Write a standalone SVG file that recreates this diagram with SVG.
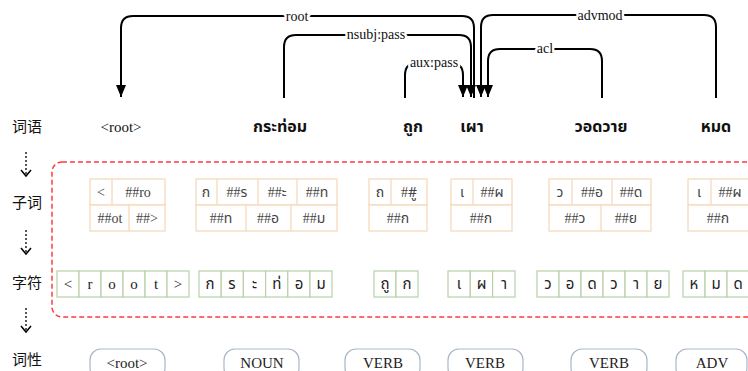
<svg xmlns="http://www.w3.org/2000/svg" width="748" height="371" viewBox="0 0 748 371">
<style>
.side{font-family:"Noto Sans CJK SC","Noto Sans",sans-serif;font-size:15px;fill:#111;text-anchor:middle}
.word{font-family:"Noto Sans Thai","Noto Sans","DejaVu Sans",sans-serif;font-size:16px;font-weight:bold;fill:#111;text-anchor:middle}
.wordr{font-family:"Liberation Serif",serif;font-size:15px;fill:#111;text-anchor:middle}
.lbl{font-family:"Liberation Serif",serif;font-size:14px;fill:#111;text-anchor:middle;stroke:#fff;stroke-width:5px;paint-order:stroke;stroke-linejoin:round}
.arc{fill:none;stroke:#000;stroke-width:2}
.sub{fill:#fff;stroke:#f5d7b8;stroke-width:1.2}
.st{font-family:"Liberation Serif","Noto Sans Thai",serif;font-size:14px;fill:#444;text-anchor:middle}
.ch{fill:#fff;stroke:#b8d0a8;stroke-width:1.2}
.ct{font-family:"Liberation Serif","Noto Sans Thai",serif;font-size:15px;fill:#222;text-anchor:middle}
.pos{fill:#fff;stroke:#a9b7cc;stroke-width:1.2}
.pt{font-family:"Liberation Serif",serif;font-size:15px;fill:#222;text-anchor:middle}
.dot{fill:none;stroke:#000;stroke-width:1.3;stroke-dasharray:2,2}
.chev{fill:none;stroke:#000;stroke-width:1.5}
</style>
<defs>
<marker id="ah" viewBox="0 0 12 10" refX="12" refY="5" markerWidth="12" markerHeight="10" markerUnits="userSpaceOnUse" orient="auto">
<path d="M0,0 L12,5 L0,10 z" fill="#000"/>
</marker>
</defs>
<rect width="748" height="371" fill="#fff"/>

<g id="side-labels">
<text class="side" x="27" y="132">词语</text>
<text class="side" x="27" y="208">子词</text>
<text class="side" x="27" y="288">字符</text>
<text class="side" x="27" y="365">词性</text>
<line class="dot" x1="26" y1="152" x2="26" y2="174"/>
<path class="chev" d="M21,170 L26,176 L31,170"/>
<line class="dot" x1="26" y1="230" x2="26" y2="252"/>
<path class="chev" d="M21,248 L26,254 L31,248"/>
<line class="dot" x1="26" y1="308" x2="26" y2="330"/>
<path class="chev" d="M21,326 L26,332 L31,326"/>
</g>

<rect id="region" x="52" y="162" width="720" height="155" rx="10" fill="none" stroke="#ff3b3b" stroke-width="1.5" stroke-dasharray="5,3"/>

<g id="connectors">
<path class="arc" d="M474,98 V28 Q474,16 462,16 H133 Q121,16 121,28 V97" marker-end="url(#ah)"/>
<path class="arc" d="M284,98 V47 Q284,35 296,35 H459 Q471,35 471,47 V97" marker-end="url(#ah)"/>
<path class="arc" d="M405,98 V75 Q405,63 417,63 H451 Q463,63 463,75 V97" marker-end="url(#ah)"/>
<path class="arc" d="M716,98 V27 Q716,15 704,15 H493 Q481,15 481,27 V97" marker-end="url(#ah)"/>
<path class="arc" d="M602,98 V61 Q602,49 590,49 H500 Q488,49 488,61 V97" marker-end="url(#ah)"/>
<text class="lbl" x="297" y="21">root</text>
<text class="lbl" x="376" y="39">nsubj:pass</text>
<text class="lbl" x="434" y="67">aux:pass</text>
<text class="lbl" x="600" y="20">advmod</text>
<text class="lbl" x="545" y="53">acl</text>
</g>

<g id="w-root">
<text class="wordr" x="121" y="132">&lt;root&gt;</text>
<rect class="sub" x="90" y="179" width="75" height="26"/>
<rect class="sub" x="90" y="205" width="75" height="26"/>
<line class="sub" x1="112" y1="179" x2="112" y2="205"/>
<line class="sub" x1="129" y1="205" x2="129" y2="231"/>
<text class="st" x="101" y="197">&lt;</text>
<text class="st" x="138" y="197">##ro</text>
<text class="st" x="110" y="223">##ot</text>
<text class="st" x="147" y="223">##&gt;</text>
<g>
<rect class="ch" x="57" y="271" width="22" height="26"/><rect class="ch" x="79" y="271" width="22" height="26"/><rect class="ch" x="101" y="271" width="22" height="26"/><rect class="ch" x="123" y="271" width="22" height="26"/><rect class="ch" x="145" y="271" width="22" height="26"/><rect class="ch" x="167" y="271" width="22" height="26"/>
<text class="ct" x="68" y="289">&lt;</text><text class="ct" x="90" y="289">r</text><text class="ct" x="112" y="289">o</text><text class="ct" x="134" y="289">o</text><text class="ct" x="156" y="289">t</text><text class="ct" x="178" y="289">&gt;</text>
</g>
<rect class="pos" x="90" y="349" width="75" height="30" rx="11"/>
<text class="pt" x="127" y="368">&lt;root&gt;</text>
</g>

<g id="w-krathom">
<text class="word" x="280" y="132">กระท่อม</text>
<rect class="sub" x="196" y="179" width="141" height="26"/>
<rect class="sub" x="196" y="205" width="141" height="26"/>
<line class="sub" x1="217" y1="179" x2="217" y2="205"/>
<line class="sub" x1="258" y1="179" x2="258" y2="205"/>
<line class="sub" x1="297" y1="179" x2="297" y2="205"/>
<line class="sub" x1="246" y1="205" x2="246" y2="231"/>
<line class="sub" x1="291" y1="205" x2="291" y2="231"/>
<text class="st" x="206" y="197">ก</text>
<text class="st" x="237" y="197">##ร</text>
<text class="st" x="277" y="197">##ะ</text>
<text class="st" x="317" y="197">##ท</text>
<text class="st" x="221" y="223">##ท</text>
<text class="st" x="268" y="223">##อ</text>
<text class="st" x="314" y="223">##ม</text>
<g>
<rect class="ch" x="199" y="271" width="22.2" height="26"/><rect class="ch" x="221.2" y="271" width="22.2" height="26"/><rect class="ch" x="243.4" y="271" width="22.2" height="26"/><rect class="ch" x="265.6" y="271" width="22.2" height="26"/><rect class="ch" x="287.8" y="271" width="22.2" height="26"/><rect class="ch" x="310" y="271" width="22" height="26"/>
<text class="ct" x="210" y="289">ก</text><text class="ct" x="232" y="289">ร</text><text class="ct" x="254.5" y="289">ะ</text><text class="ct" x="276.7" y="289">ท่</text><text class="ct" x="299" y="289">อ</text><text class="ct" x="321" y="289">ม</text>
</g>
<rect class="pos" x="224" y="349" width="75" height="30" rx="11"/>
<text class="pt" x="262" y="368">NOUN</text>
</g>

<g id="w-thuk">
<text class="word" x="413" y="132">ถูก</text>
<rect class="sub" x="369" y="179" width="58" height="26"/>
<rect class="sub" x="369" y="205" width="58" height="26"/>
<line class="sub" x1="391" y1="179" x2="391" y2="205"/>
<text class="st" x="380" y="197">ถ</text>
<text class="st" x="409" y="197">##ู</text>
<text class="st" x="398" y="223">##ก</text>
<g>
<rect class="ch" x="374" y="271" width="22" height="26"/><rect class="ch" x="396" y="271" width="22" height="26"/>
<text class="ct" x="385" y="289">ถู</text><text class="ct" x="407" y="289">ก</text>
</g>
<rect class="pos" x="345" y="349" width="75" height="30" rx="11"/>
<text class="pt" x="383" y="368">VERB</text>
</g>

<g id="w-phao">
<text class="word" x="472" y="132">เผา</text>
<rect class="sub" x="451" y="179" width="61" height="26"/>
<rect class="sub" x="451" y="205" width="61" height="26"/>
<line class="sub" x1="473" y1="179" x2="473" y2="205"/>
<text class="st" x="462" y="197">เ</text>
<text class="st" x="492" y="197">##ผ</text>
<text class="st" x="481" y="223">##ก</text>
<g>
<rect class="ch" x="448" y="271" width="22.3" height="26"/><rect class="ch" x="470.3" y="271" width="22.3" height="26"/><rect class="ch" x="492.6" y="271" width="22.4" height="26"/>
<text class="ct" x="459" y="289">เ</text><text class="ct" x="481.5" y="289">ผ</text><text class="ct" x="504" y="289">า</text>
</g>
<rect class="pos" x="448" y="349" width="75" height="30" rx="11"/>
<text class="pt" x="485" y="368">VERB</text>
</g>

<g id="w-wotwai">
<text class="word" x="601" y="132">วอดวาย</text>
<rect class="sub" x="549" y="179" width="102" height="26"/>
<rect class="sub" x="549" y="205" width="102" height="26"/>
<line class="sub" x1="572" y1="179" x2="572" y2="205"/>
<line class="sub" x1="612" y1="179" x2="612" y2="205"/>
<line class="sub" x1="601" y1="205" x2="601" y2="231"/>
<text class="st" x="560" y="197">ว</text>
<text class="st" x="592" y="197">##อ</text>
<text class="st" x="631" y="197">##ด</text>
<text class="st" x="575" y="223">##ว</text>
<text class="st" x="626" y="223">##ย</text>
<g>
<rect class="ch" x="537" y="271" width="22" height="26"/><rect class="ch" x="559" y="271" width="22" height="26"/><rect class="ch" x="581" y="271" width="22" height="26"/><rect class="ch" x="603" y="271" width="22" height="26"/><rect class="ch" x="625" y="271" width="22" height="26"/><rect class="ch" x="647" y="271" width="22" height="26"/>
<text class="ct" x="548" y="289">ว</text><text class="ct" x="570" y="289">อ</text><text class="ct" x="592" y="289">ด</text><text class="ct" x="614" y="289">ว</text><text class="ct" x="636" y="289">า</text><text class="ct" x="658" y="289">ย</text>
</g>
<rect class="pos" x="571" y="349" width="76" height="30" rx="11"/>
<text class="pt" x="609" y="368">VERB</text>
</g>

<g id="w-mot">
<text class="word" x="716" y="132">หมด</text>
<rect class="sub" x="688" y="179" width="61" height="26"/>
<rect class="sub" x="688" y="205" width="61" height="26"/>
<line class="sub" x1="711" y1="179" x2="711" y2="205"/>
<text class="st" x="699" y="197">เ</text>
<text class="st" x="730" y="197">##ผ</text>
<text class="st" x="718" y="223">##ก</text>
<g>
<rect class="ch" x="683" y="271" width="22" height="26"/><rect class="ch" x="705" y="271" width="22" height="26"/><rect class="ch" x="727" y="271" width="22" height="26"/>
<text class="ct" x="694" y="289">ห</text><text class="ct" x="716" y="289">ม</text><text class="ct" x="738" y="289">ด</text>
</g>
<rect class="pos" x="676" y="349" width="71" height="30" rx="11"/>
<text class="pt" x="712" y="368">ADV</text>
</g>
</svg>
